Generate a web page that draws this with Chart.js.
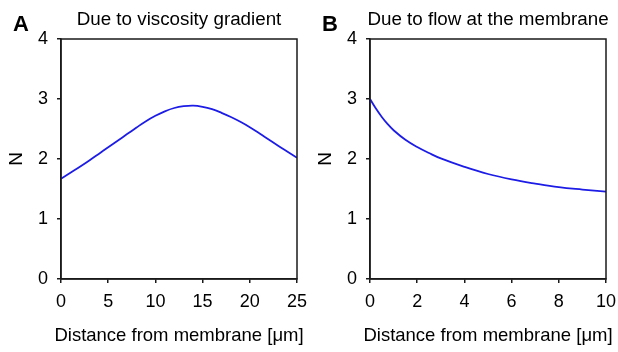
<!DOCTYPE html>
<html>
<head>
<meta charset="utf-8">
<script src="https://cdn.jsdelivr.net/npm/chart.js@4/dist/chart.umd.min.js"></script>
<style>
  body { margin: 0; background: #fff; }
  .wrap { position: relative; width: 618px; height: 352px; }
  canvas { position: absolute; top: 0; }
</style>
</head>
<body>
<div class="wrap">
  <canvas id="chart-a" width="309" height="352" style="left:0"></canvas>
  <canvas id="chart-b" width="309" height="352" style="left:309px"></canvas>
</div>
<script>
// panel A: due to viscosity gradient
var distanceA = [0, 1, 2, 3, 4, 5, 6, 7, 8, 9, 10, 11, 12, 13, 14, 15, 16, 17, 18, 19, 20, 21, 22, 23, 24, 25];
var nA = [1.67, 1.77, 1.87, 1.975, 2.085, 2.195, 2.305, 2.415, 2.525, 2.63, 2.72, 2.795, 2.85, 2.88, 2.89, 2.87, 2.83, 2.77, 2.70, 2.62, 2.53, 2.43, 2.325, 2.22, 2.12, 2.02];

// panel B: due to flow at the membrane
var distanceB = [0, 0.25, 0.5, 0.75, 1, 1.5, 2, 2.5, 3, 4, 5, 6, 7, 8, 9, 10];
var nB = [3.00, 2.84, 2.70, 2.58, 2.48, 2.32, 2.20, 2.10, 2.01, 1.87, 1.75, 1.66, 1.59, 1.53, 1.49, 1.455];

var xTicksA = [0, 5, 10, 15, 20, 25];
var xTicksB = [0, 2, 4, 6, 8, 10];
var yTicks = [0, 1, 2, 3, 4];

var font = "'Liberation Sans', Arial, sans-serif";

var framePlugin = {
  id: 'frame',
  afterDraw: function (chart, args, opts) {
    var ctx = chart.ctx, a = chart.chartArea;
    var cx = (a.left + a.right) / 2;
    ctx.save();
    ctx.strokeStyle = '#1a1a1a';
    ctx.lineWidth = 1.5;
    ctx.strokeRect(a.left, a.top, a.right - a.left, a.bottom - a.top);
    ctx.fillStyle = '#000';
    ctx.textBaseline = 'alphabetic';
    ctx.font = 'bold 22px ' + font;
    ctx.textAlign = 'left';
    ctx.fillText(opts.letter, 13, 31);
    ctx.font = '18.8px ' + font;
    ctx.textAlign = 'center';
    ctx.fillText(opts.title, cx, 25);
    ctx.font = '18.5px ' + font;
    ctx.fillText('Distance from membrane [μm]', cx, 341);
    ctx.restore();
  }
};

function makePoints(xs, ys) {
  return xs.map(function (x, i) { return { x: x, y: ys[i] }; });
}

function makeChart(id, xs, ys, xTicks, letter, title) {
  var ctx = document.getElementById(id).getContext('2d');
  return new Chart(ctx, {
    type: 'line',
    data: {
      datasets: [{
        data: makePoints(xs, ys),
        borderColor: '#1c1ce6',
        borderWidth: 1.8,
        pointRadius: 0,
        tension: 0.4,
        fill: false
      }]
    },
    options: {
      responsive: false,
      animation: false,
      layout: { padding: { top: 39, right: 12, left: 0, bottom: 0 } },
      plugins: {
        legend: { display: false },
        tooltip: { enabled: false },
        frame: { letter: letter, title: title }
      },
      scales: {
        x: {
          type: 'linear',
          min: xTicks[0],
          max: xTicks[xTicks.length - 1],
          afterBuildTicks: function (s) { s.ticks = xTicks.map(function (v) { return { value: v }; }); },
          afterFit: function (s) { s.height = 73; s.paddingLeft = 0; s.paddingRight = 0; },
          grid: { drawOnChartArea: false, drawTicks: true, tickLength: 4, color: '#1a1a1a', lineWidth: 1.5 },
          border: { color: '#1a1a1a', width: 1.5 },
          ticks: { color: '#000', font: { family: font, size: 18 }, padding: 8, maxRotation: 0 }
        },
        y: {
          min: 0,
          max: 4,
          afterBuildTicks: function (s) { s.ticks = yTicks.map(function (v) { return { value: v }; }); },
          afterFit: function (s) { s.width = 61; s.paddingTop = 0; s.paddingBottom = 0; },
          grid: { drawOnChartArea: false, drawTicks: true, tickLength: 4, color: '#1a1a1a', lineWidth: 1.5 },
          border: { color: '#1a1a1a', width: 1.5 },
          ticks: { color: '#000', font: { family: font, size: 18 }, padding: 9 },
          title: { display: true, text: 'N', color: '#000', font: { family: font, size: 19 }, padding: { top: 5, bottom: 5 } }
        }
      }
    },
    plugins: [framePlugin]
  });
}

makeChart('chart-a', distanceA, nA, xTicksA, 'A', 'Due to viscosity gradient');
makeChart('chart-b', distanceB, nB, xTicksB, 'B', 'Due to flow at the membrane');
</script>
</body>
</html>
